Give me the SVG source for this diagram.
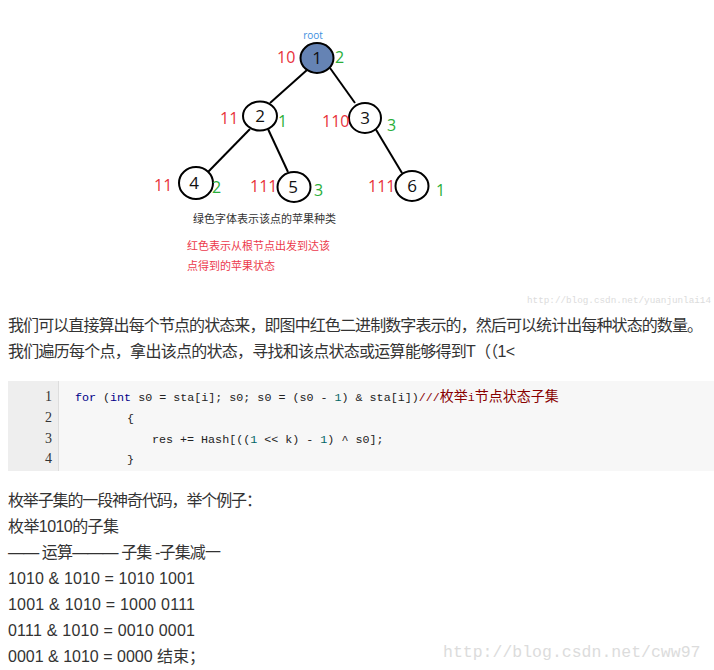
<svg xmlns="http://www.w3.org/2000/svg" width="714" height="670" viewBox="0 0 714 670">
<defs>
<style>
.edge{stroke:#000;stroke-width:2;fill:none}
.node{stroke:#000;stroke-width:2;fill:#fff}
.num{font-family:"Segoe UI","Open Sans","Noto Sans",sans-serif;font-size:17px;fill:#111;text-anchor:middle}
.red{font-family:"Segoe UI","Open Sans","Noto Sans",sans-serif;font-size:16px;fill:#e8323c}
.grn{font-family:"Segoe UI","Open Sans","Noto Sans",sans-serif;font-size:16px;fill:#2aae3a}
.cap{font-family:"Noto Sans CJK SC",sans-serif;font-size:11px}
.p{font-family:"Liberation Sans","Noto Sans CJK SC",sans-serif;font-size:16px;fill:#333}
.code{font-family:"Liberation Mono","Noto Sans CJK SC",monospace;font-size:11.7px;fill:#222}
.ln{font-family:"Liberation Serif",serif;font-size:14px;fill:#333;text-anchor:end}
.kw{fill:#000088}
.lit{fill:#006666}
.com{fill:#880000}
.wm{font-family:"Liberation Mono",monospace;fill:#dcdcdc}
</style>
</defs>
<rect width="714" height="670" fill="#fff"/>
<g id="connectors">
<line class="edge" x1="307" y1="70" x2="270" y2="103"/>
<line class="edge" x1="330" y1="68" x2="355" y2="103"/>
<line class="edge" x1="250" y1="129" x2="208" y2="172"/>
<line class="edge" x1="268" y1="129" x2="288" y2="172"/>
<line class="edge" x1="375" y1="128" x2="402" y2="173"/>
</g>
<g id="node1">
<text x="313" y="39" font-family="Segoe UI,Open Sans,Noto Sans,sans-serif" font-size="10" fill="#3d8fe0" text-anchor="middle">root</text>
<ellipse cx="317" cy="58" rx="16.5" ry="15" stroke="#000" stroke-width="2" fill="#6583b4"/>
<text class="num" x="317" y="64">1</text>
<text class="red" x="277" y="63">10</text>
<text class="grn" x="335" y="63">2</text>
</g>
<g id="node2">
<ellipse class="node" cx="260" cy="116" rx="17" ry="14.5"/>
<text class="num" x="260" y="122">2</text>
<text class="red" x="220" y="124">11</text>
<text class="grn" x="278" y="127">1</text>
</g>
<g id="node3">
<ellipse class="node" cx="365" cy="118" rx="16" ry="15"/>
<text class="num" x="365" y="124">3</text>
<text class="red" x="322" y="127">110</text>
<text class="grn" x="387" y="131">3</text>
</g>
<g id="node4">
<ellipse class="node" cx="196" cy="183" rx="17" ry="16"/>
<text class="num" x="194" y="189">4</text>
<text class="red" x="154" y="191">11</text>
<text class="grn" x="212" y="193">2</text>
</g>
<g id="node5">
<ellipse class="node" cx="294" cy="187" rx="16.5" ry="15"/>
<text class="num" x="293" y="193">5</text>
<text class="red" x="250" y="192">111</text>
<text class="grn" x="314" y="196">3</text>
</g>
<g id="node6">
<ellipse class="node" cx="412" cy="186" rx="16.5" ry="15"/>
<text class="num" x="412" y="192">6</text>
<text class="red" x="368" y="192">111</text>
<text class="grn" x="436" y="196">1</text>
</g>
<g id="captions">
<text class="cap" x="193" y="223" fill="#333">绿色字体表示该点的苹果种类</text>
<text class="cap" x="187" y="250" fill="#ec3a4c">红色表示从根节点出发到达该</text>
<text class="cap" x="187" y="270" fill="#ec3a4c">点得到的苹果状态</text>
</g>
<text class="wm" x="527" y="303" font-size="9.5" textLength="184" lengthAdjust="spacingAndGlyphs">http://blog.csdn.net/yuanjunlai14</text>
<g id="paragraph">
<text class="p" x="8" y="331" textLength="695">我们可以直接算出每个节点的状态来，即图中红色二进制数字表示的，然后可以统计出每种状态的数量。</text>
<text class="p" x="8" y="357" textLength="507">我们遍历每个点，拿出该点的状态，寻找和该点状态或运算能够得到T（（1&lt;</text>
</g>
<g id="codeblock">
<rect x="8" y="381" width="706" height="90" fill="#f7f7f7"/>
<rect x="8" y="381" width="50" height="90" fill="#eeeeee"/>
<line x1="58.5" y1="381" x2="58.5" y2="471" stroke="#dddddd"/>
<text class="ln" x="52" y="401">1</text>
<text class="ln" x="52" y="422">2</text>
<text class="ln" x="52" y="443">3</text>
<text class="ln" x="52" y="463">4</text>
<text class="code" x="75" y="401"><tspan class="kw">for</tspan> (<tspan class="kw">int</tspan> s0 = sta[i]; s0; s0 = (s0 - <tspan class="lit">1</tspan>) &amp; sta[i])<tspan class="com">///<tspan font-size="14">枚举</tspan>i<tspan font-size="14">节点状态子集</tspan></tspan></text>
<text class="code" x="127" y="422">{</text>
<text class="code" x="152" y="443">res += Hash[((<tspan class="lit">1</tspan> &lt;&lt; k) - <tspan class="lit">1</tspan>) ^ s0];</text>
<text class="code" x="127" y="463">}</text>
</g>
<g id="example">
<text class="p" x="8" y="506" textLength="254">枚举子集的一段神奇代码，举个例子：</text>
<text class="p" x="8" y="532" textLength="111">枚举1010的子集</text>
<text class="p" x="8" y="558" textLength="213">—— 运算——— 子集 -子集减一</text>
<text class="p" x="8" y="584" textLength="187">1010 &amp; 1010 = 1010 1001</text>
<text class="p" x="8" y="610" textLength="187">1001 &amp; 1010 = 1000 0111</text>
<text class="p" x="8" y="636" textLength="187">0111 &amp; 1010 = 0010 0001</text>
<text class="p" x="8" y="662">0001 &amp; 1010 = 0000 结束；</text>
</g>
<text class="wm" x="443" y="657" font-size="16.5">http://blog.csdn.net/cww97</text>
</svg>
